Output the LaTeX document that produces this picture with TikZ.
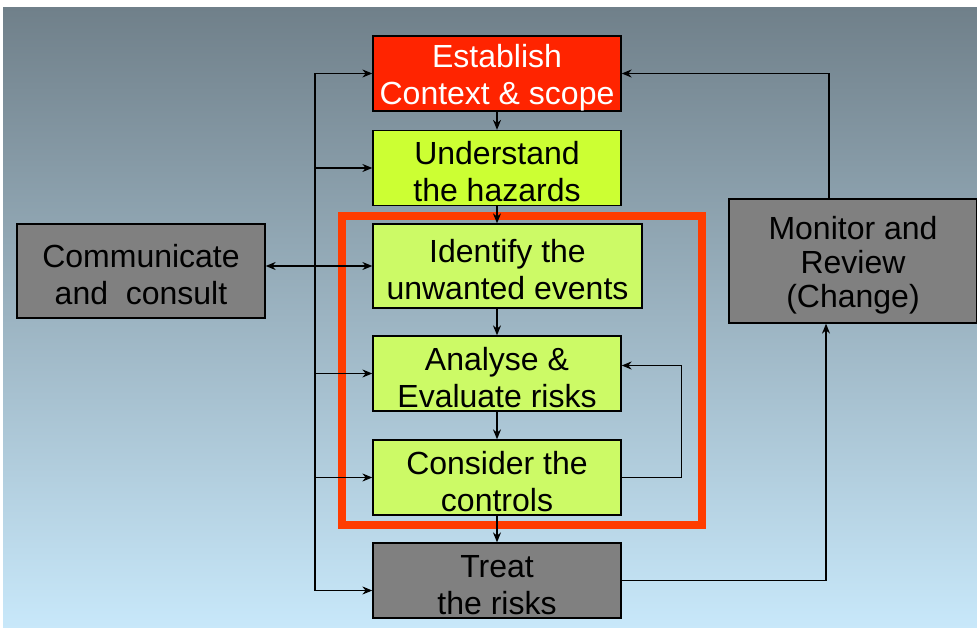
\documentclass[tikz,border=0pt]{standalone}
\usepackage{fontspec}
\setmainfont{Liberation Sans}
\usetikzlibrary{arrows.meta,positioning,calc}
\definecolor{estred}{RGB}{255,36,0}
\definecolor{hazgreen}{RGB}{204,255,51}
\definecolor{riskgreen}{RGB}{204,250,102}
\definecolor{treatgray}{RGB}{128,128,128}
\definecolor{frameorange}{RGB}{255,60,0}
\definecolor{bgtop}{RGB}{112,128,138}
\definecolor{bgbottom}{RGB}{200,232,250}
\newcommand{\capstrut}{\rule{0pt}{31pt}}

\begin{document}
\begin{tikzpicture}[x=1pt, y=-1pt, >={Stealth[length=10pt,width=8pt]},
    stagebox/.style={draw, line width=1.3pt, minimum width=248pt, minimum height=75pt,
        inner sep=0pt, align=center, font=\fontsize{32}{37}\selectfont},
    link/.style={line width=1.2pt}]
    \useasboundingbox (0,0) rectangle (977,628);
    \fill[top color=bgtop, bottom color=bgbottom] (3,8) rectangle (977,628);

    % main column
    \node[stagebox, fill=estred, text=white] (est) at (497,73.5) {\capstrut Establish\\Context \& scope};
    \node[stagebox, fill=hazgreen] (und) at (497,168) {\capstrut Understand\\the hazards};
    \node[stagebox, fill=riskgreen, minimum width=269pt, minimum height=84pt] (ide) at (507.5,266) {\capstrut Identify the\\unwanted events};
    \node[stagebox, fill=riskgreen] (ana) at (497,373.5) {\capstrut Analyse \&\\Evaluate risks};
    \node[stagebox, fill=riskgreen] (con) at (497,477.5) {\capstrut Consider the\\controls};
    \node[stagebox, fill=treatgray] (tre) at (497,580.5) {\capstrut Treat\\the risks};

    % side boxes
    \node[stagebox, fill=treatgray, minimum height=94pt] (com) at (141,271) {\capstrut Communicate\\and\ \ consult};
    \node[stagebox, fill=treatgray, minimum height=124pt, font=\fontsize{32}{34}\selectfont] (mon) at (853,261) {\capstrut Monitor and\\Review\\(Change)};

    % risk assessment frame
    \node[draw=frameorange, line width=8pt, minimum width=360pt, minimum height=309pt] (frame) at (522,370.5) {};

    % communication bus
    \coordinate (bus) at (315,0);
    \coordinate (treIn) at ([yshift=-10pt]tre.west);
    \draw[link] (bus |- est.west) -- (bus |- treIn);
    \foreach \n in {est,und,ana,con}
        \draw[link,->] (bus |- \n.west) -- (\n.west);
    \draw[link,->] (bus |- treIn) -- (treIn);
    \draw[link,<->] (com.east |- ide.west) -- (ide.west);

    % process flow
    \draw[link,->] (est) -- (und);
    \draw[link,->] (und.south) -- (und.south |- ide.north);
    \draw[link,->] (ana.north |- ide.south) -- (ana.north);
    \draw[link,->] (ana) -- (con);
    \draw[link,->] (con) -- (tre);
    \draw[link,->] (con.east) -- ++(60,0) |- ([yshift=8pt]ana.east);

    % monitoring loop
    \coordinate (monIn) at ([xshift=-27pt]mon.south);
    \coordinate (monOut) at ([xshift=-24pt]mon.north);
    \draw[link,->] (tre.east) -| (monIn);
    \draw[link,->] (monOut) |- (est.east);
\end{tikzpicture}
\end{document}
